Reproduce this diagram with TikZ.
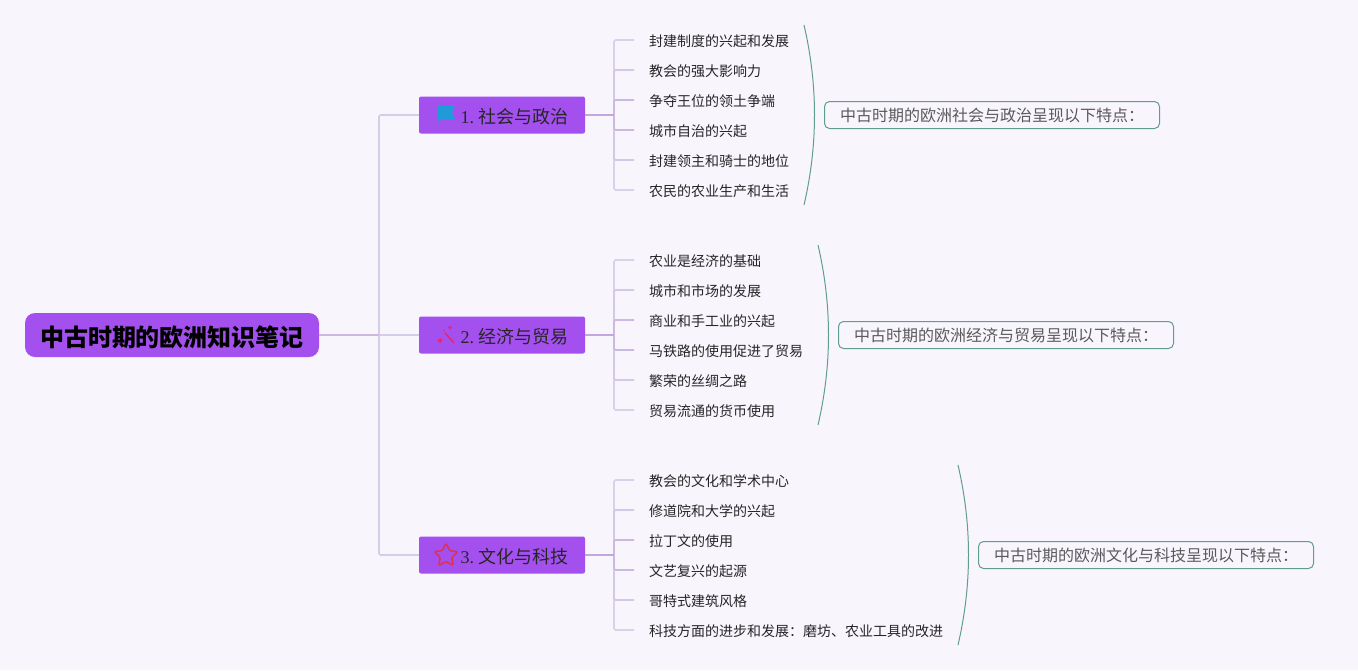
\documentclass[tikz,border=0pt]{standalone}
\usepackage{fontspec}
\setmainfont{Noto Sans CJK SC}
\newfontfamily\latfont{Liberation Serif}
\usetikzlibrary{shapes.geometric}
\definecolor{bgc}{HTML}{F8F5FD}
\definecolor{boxc}{HTML}{A350EF}
\definecolor{trunk}{HTML}{D5CCE8}
\definecolor{rootln}{HTML}{CDB8E0}
\definecolor{mainln}{HTML}{C3A6DF}
\definecolor{leafln}{HTML}{D9D1EA}
\definecolor{leafmid}{HTML}{D3C8E6}
\definecolor{leafin}{HTML}{CBB9E0}
\definecolor{sumc}{HTML}{5F9E8F}
\definecolor{sumtxt}{HTML}{5A5A5A}
\definecolor{flagc}{HTML}{1E9BD8}
\definecolor{wandc}{HTML}{E8256F}
\definecolor{starc}{HTML}{E0304F}
\tikzset{
  x=1pt,y=-1pt,
  rootbox/.style={fill=boxc,rounded corners=10pt,minimum width=294pt,minimum height=44pt,inner sep=0pt,text height=24pt,text depth=1.8pt,text=black,font=\fontsize{24}{28}\selectfont\bfseries},
  mainbox/.style={fill=boxc,rounded corners=2pt,minimum width=166pt,minimum height=37pt,inner sep=0pt,text height=18pt,text depth=1.3pt,text=black!85,font=\fontsize{18}{22}\selectfont},
  leafnode/.style={anchor=west,inner xsep=15pt,inner ysep=3pt,text height=13pt,text depth=0.4pt,text=black!85,font=\fontsize{14}{17}\selectfont},
  sumbox/.style={anchor=west,draw=sumc,line width=1pt,fill=bgc,rounded corners=5pt,minimum height=27pt,inner ysep=0pt,inner xsep=0pt,text=sumtxt,font=\fontsize{16}{19}\selectfont},
  trunkline/.style={draw=trunk,line width=1.6pt,rounded corners=1.5pt},
  rootline/.style={draw=rootln,line width=1.6pt},
  mainline/.style={draw=mainln,line width=1.6pt},
  leafline/.style={line width=1.6pt,rounded corners=1.5pt},
  brace/.style={draw=sumc,line width=1pt},
}
\begin{document}
\begin{tikzpicture}
\fill[bgc] (0,0) rectangle (1358,670);
\useasboundingbox (0,0) rectangle (1358,670);

% connectors' junctions
\coordinate (tr) at (379,335);
\coordinate (j1) at (614,115);
\coordinate (j2) at (614,335);
\coordinate (j3) at (614,555);

% main nodes
\node[rootbox] (root) at (172,335) {中古时期的欧洲知识笔记};
\node[mainbox] (m1) at (502,115) {\hspace*{25pt}{\latfont 1.}\hspace{4.5pt}社会与政治};
\node[mainbox] (m2) at (502,335) {\hspace*{25pt}{\latfont 2.}\hspace{4.5pt}经济与贸易};
\node[mainbox] (m3) at (502,555) {\hspace*{25pt}{\latfont 3.}\hspace{4.5pt}文化与科技};

% leaves
\foreach \n/\y/\t/\c in {
 a1/40/封建制度的兴起和发展/leafln,a2/70/教会的强大影响力/leafmid,a3/100/争夺王位的领土争端/leafin,
 a6/190/农民的农业生产和生活/leafln,a5/160/封建领主和骑士的地位/leafmid,a4/130/城市自治的兴起/leafin}
 {\node[leafnode] (\n) at (634,\y) {\t}; \draw[leafline,draw=\c] (j1) |- (\n.west);}
\foreach \n/\y/\t/\c in {
 b1/260/农业是经济的基础/leafln,b2/290/城市和市场的发展/leafmid,b3/320/商业和手工业的兴起/leafin,
 b6/410/贸易流通的货币使用/leafln,b5/380/繁荣的丝绸之路/leafmid,b4/350/马铁路的使用促进了贸易/leafin}
 {\node[leafnode] (\n) at (634,\y) {\t}; \draw[leafline,draw=\c] (j2) |- (\n.west);}
\foreach \n/\y/\t/\c in {
 c1/480/教会的文化和学术中心/leafln,c2/510/修道院和大学的兴起/leafmid,c3/540/拉丁文的使用/leafin,
 c6/630/科技方面的进步和发展：磨坊、农业工具的改进/leafln,c5/600/哥特式建筑风格/leafmid,c4/570/文艺复兴的起源/leafin}
 {\node[leafnode] (\n) at (634,\y) {\t}; \draw[leafline,draw=\c] (j3) |- (\n.west);}

% trunk
\draw[trunkline] (tr) |- (m1.west);
\draw[trunkline] (tr) |- (m3.west);
\draw[trunkline] (tr) -- (m2.west);
\draw[rootline] (root.east) -- (tr);
\draw[mainline] (m1.east) -- (j1);
\draw[mainline] (m2.east) -- (j2);
\draw[mainline] (m3.east) -- (j3);

% summaries
\node[sumbox,minimum width=335pt] (s1) at (824,115) {中古时期的欧洲社会与政治呈现以下特点：};
\node[sumbox,minimum width=335pt] (s2) at (838,335) {中古时期的欧洲经济与贸易呈现以下特点：};
\node[sumbox,minimum width=335pt] (s3) at (978,555) {中古时期的欧洲文化与科技呈现以下特点：};

% brackets
\coordinate (p1a) at (804,25); \coordinate (p1b) at (804,205);
\coordinate (p2a) at (818,245); \coordinate (p2b) at (818,425);
\coordinate (p3a) at (958,465); \coordinate (p3b) at (958,645);
\draw[brace] (p1a) .. controls (818,85) and (818,145) .. (p1b);
\draw[brace] (p2a) .. controls (832,305) and (832,365) .. (p2b);
\draw[brace] (p3a) .. controls (972,525) and (972,585) .. (p3b);

% icons
\fill[flagc] (437.5,106) -- (455,105) -- (452,112) -- (455,119) -- (438,120) -- cycle;
\fill[flagc!60!boxc] (437,120) rectangle (438.5,123.5);
\draw[wandc,line width=1.5pt] (445,333) -- (454,343);
\fill[wandc] (440,337.5) -- (441,339.5) -- (443,340.5) -- (441,341.5) -- (440,343.5) -- (439,341.5) -- (437,340.5) -- (439,339.5) -- cycle;
\fill[wandc] (450,325) -- (450.8,326.7) -- (452.5,327.5) -- (450.8,328.3) -- (450,330) -- (449.2,328.3) -- (447.5,327.5) -- (449.2,326.7) -- cycle;
\fill[wandc] (444,330.5) circle (0.8);
\node[star,star points=5,star point ratio=2.1,draw=starc,line width=1.5pt,rounded corners=1.5pt,minimum size=25pt,inner sep=0pt] (st) at (446,555.5) {};
\end{tikzpicture}
\end{document}
